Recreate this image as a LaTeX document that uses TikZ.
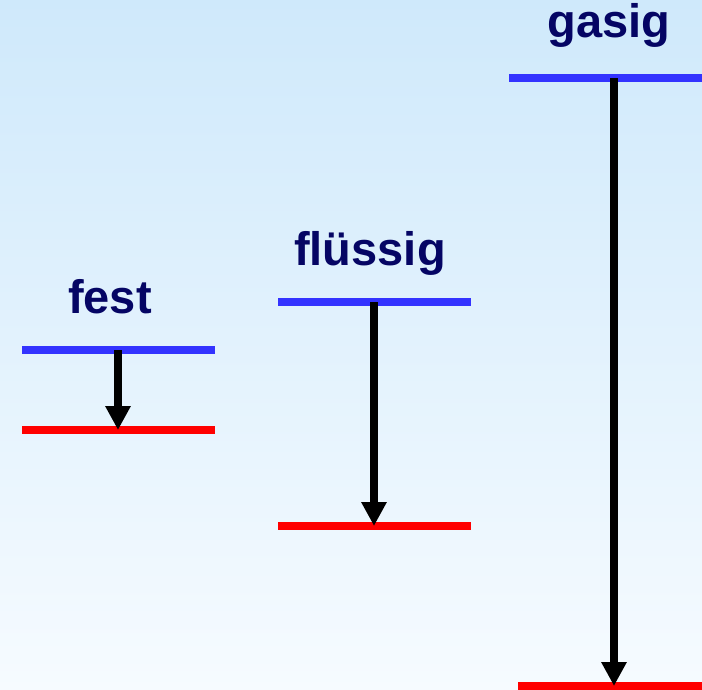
\documentclass[tikz,border=0pt]{standalone}
\usepackage{fontspec}
\setmainfont{Liberation Sans}
\usetikzlibrary{arrows.meta}
\definecolor{lblue}{RGB}{51,51,255}
\definecolor{lred}{RGB}{255,0,0}
\definecolor{lnavy}{RGB}{5,5,100}
\definecolor{bgtop}{RGB}{207,233,251}
\definecolor{bgbot}{RGB}{246,251,255}
\tikzset{
  upper/.style={fill=lblue, draw=none, minimum width=193pt, minimum height=8.5pt, inner sep=0pt, outer sep=0pt},
  lower/.style={fill=lred, draw=none, minimum width=193pt, minimum height=8.5pt, inner sep=0pt, outer sep=0pt},
  phase/.style={text=lnavy, font=\bfseries\fontsize{47}{56}\selectfont, inner sep=0pt, anchor=base},
  drop/.style={draw=black, line width=7.5pt, -{Triangle[width=24pt,length=24pt]}}
}
\begin{document}
\begin{tikzpicture}[x=1pt,y=-1pt]
\useasboundingbox (0,0) rectangle (702,690);
\shade[top color=bgtop, bottom color=bgbot] (0,0) rectangle (702,690);
% levels
\node[upper] (fup) at (118.5,350) {};
\node[lower] (flo) at (118.5,430) {};
\node[upper] (lup) at (374.5,302) {};
\node[lower] (llo) at (374.5,526) {};
\node[upper] (gup) at (605.5,78) {};
\node[lower] (glo) at (614.5,686) {};
% labels
\node[phase] (tfest) at (110,313.5) {fest};
\node[phase] (tfl) at (370,265.5) {flüssig};
\node[phase] (tgas) at (609,38) {gasig};
% arrow ends
\coordinate (fa) at (118,350);
\coordinate (fb) at (118,430);
\coordinate (la) at (374,302);
\coordinate (lb) at (374,526);
\coordinate (ga) at (614,78);
\coordinate (gb) at (614,686);
\draw[drop] (fa) -- (fb);
\draw[drop] (la) -- (lb);
\draw[drop] (ga) -- (gb);
\end{tikzpicture}
\end{document}
